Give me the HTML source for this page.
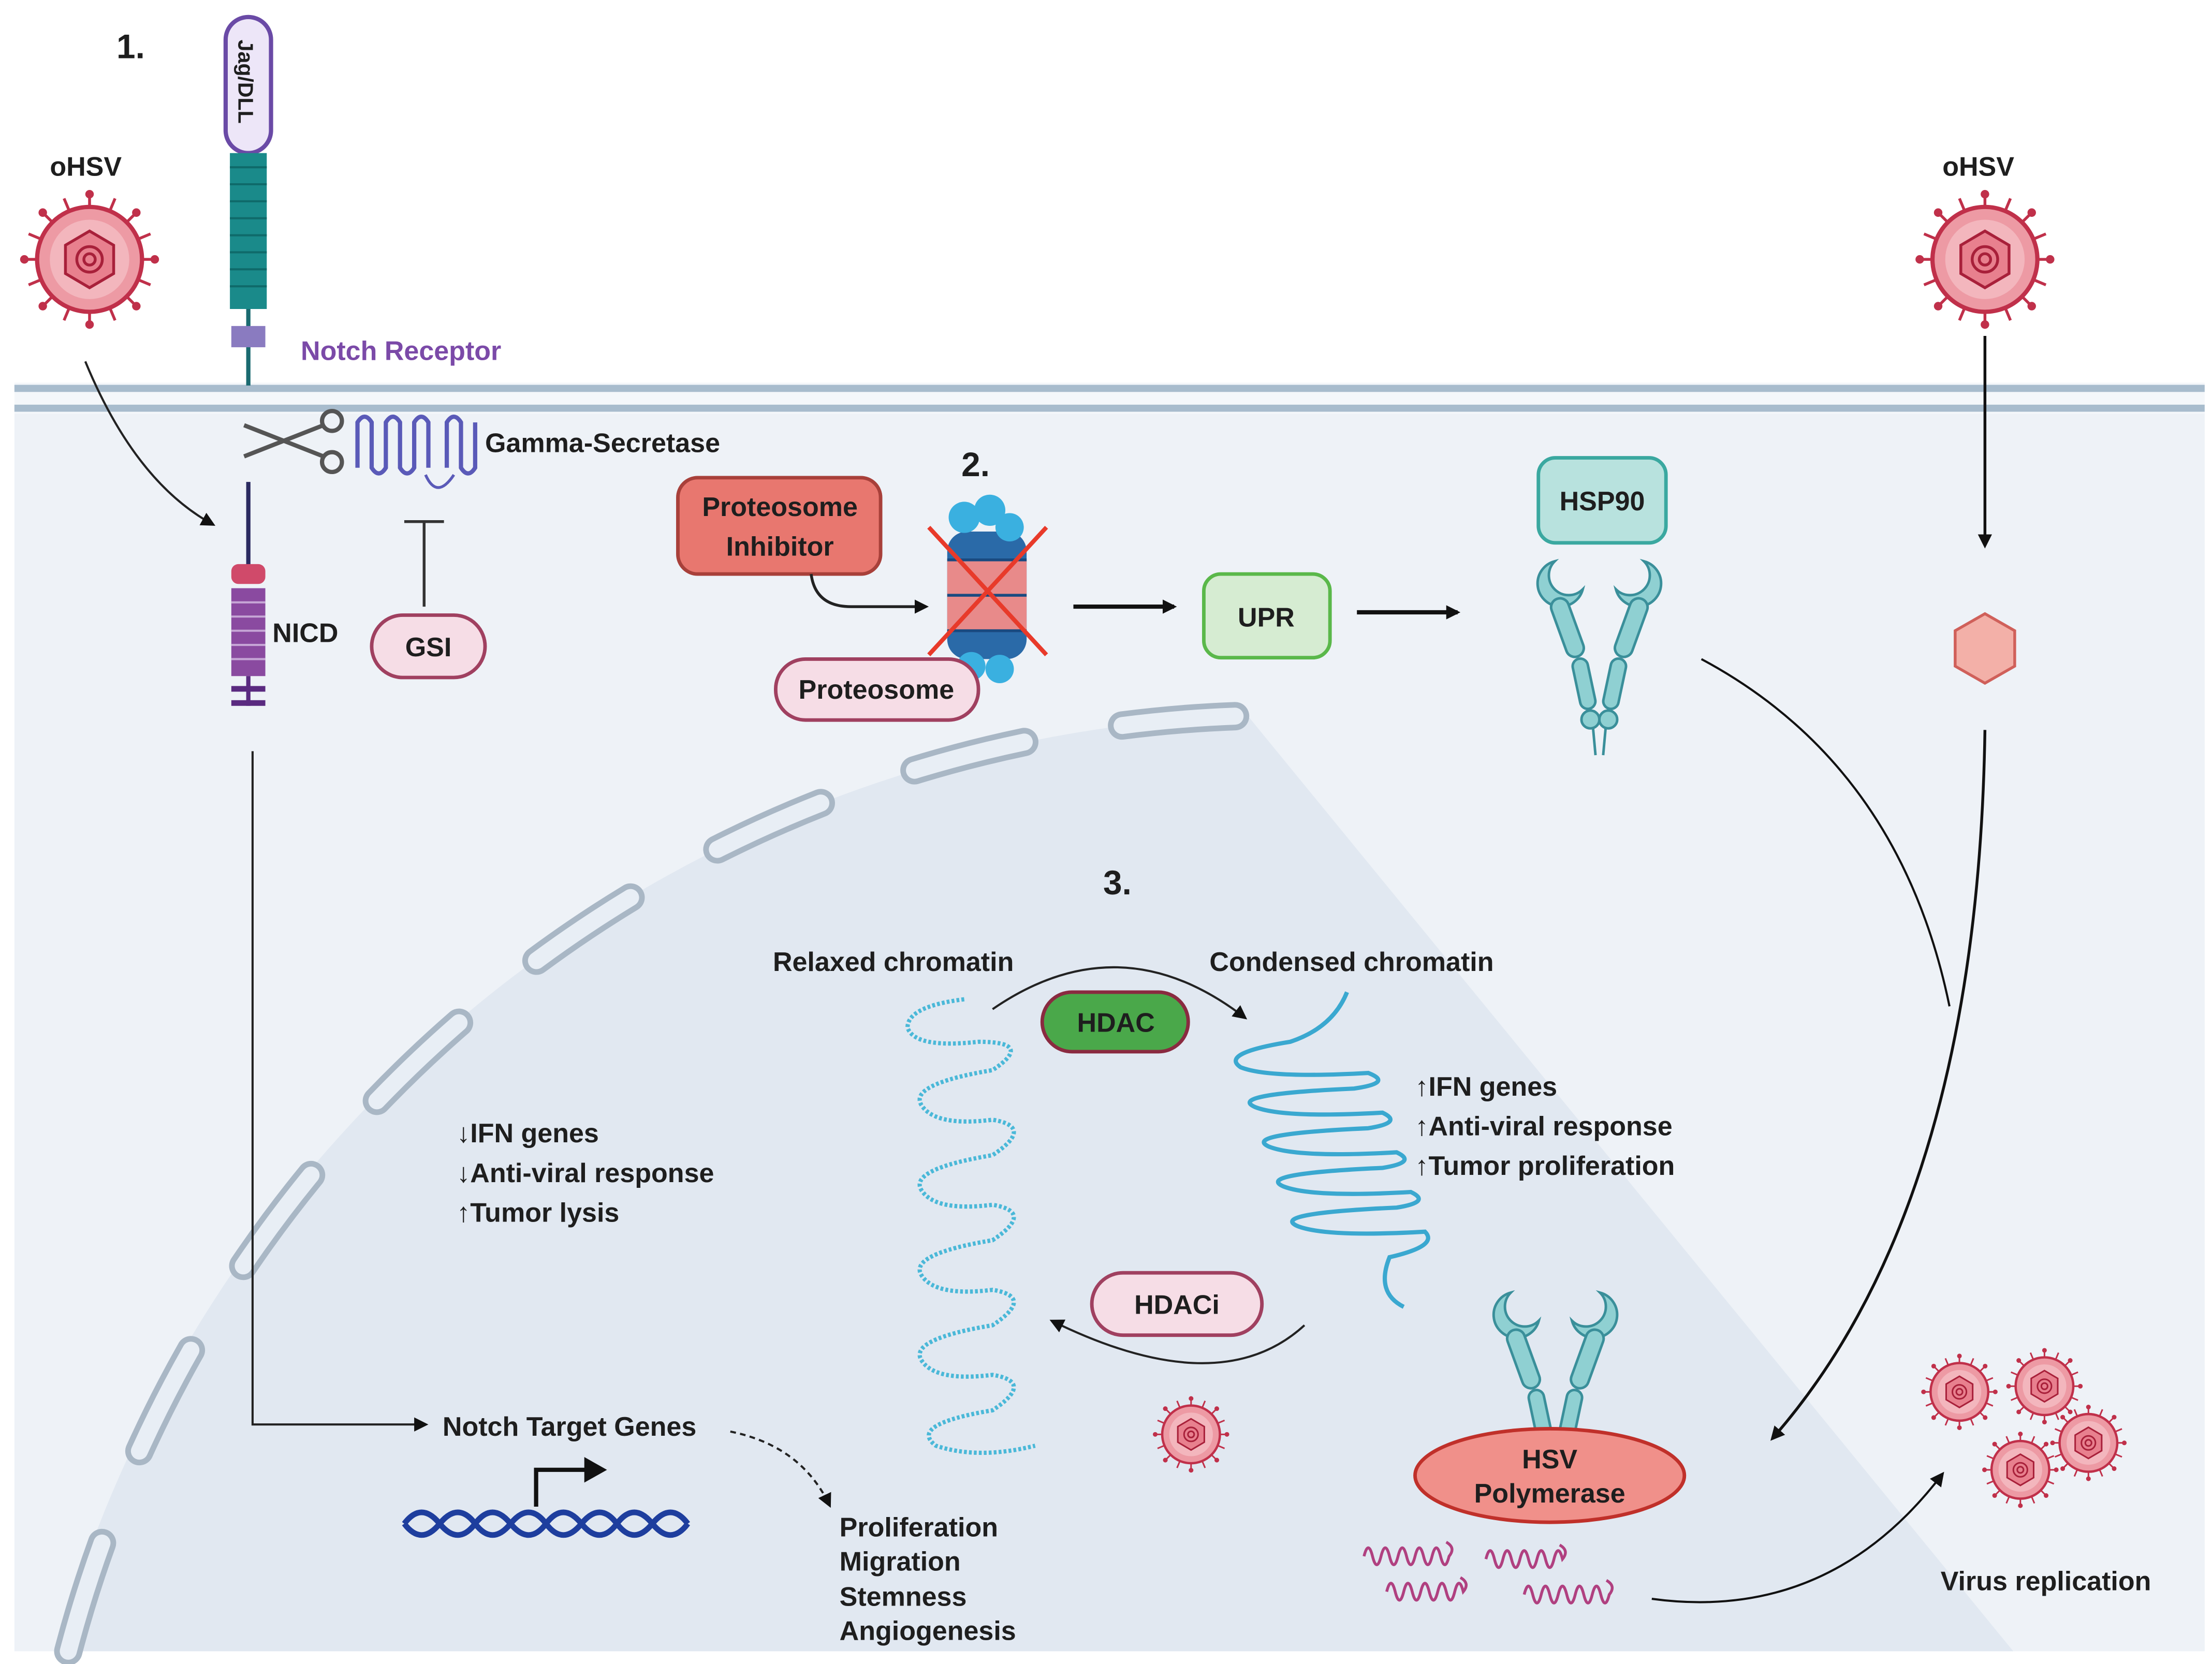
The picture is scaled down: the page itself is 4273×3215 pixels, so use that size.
<!DOCTYPE html>
<html><head><meta charset="utf-8"><style>
html,body{margin:0;padding:0;background:#fff;}
svg{display:block;}
text{font-family:"Liberation Sans",Arial,sans-serif;font-weight:bold;fill:#1e1e1e;}
</style></head><body>
<svg width="4273" height="3215" viewBox="0 0 1560 1174" xmlns="http://www.w3.org/2000/svg">
<defs>
<marker id="ah" markerWidth="10" markerHeight="10" refX="8" refY="5" orient="auto" markerUnits="userSpaceOnUse"><path d="M0,0 L10,5 L0,10 z" fill="#111"/></marker>
<g id="virus">
 <g stroke="#c0304a" stroke-width="2">
  <line x1="0" y1="-46" x2="0" y2="46"/><line x1="-46" y1="0" x2="46" y2="0"/>
  <line x1="-33" y1="-33" x2="33" y2="33"/><line x1="-33" y1="33" x2="33" y2="-33"/>
  <line x1="-18" y1="-43" x2="18" y2="43"/><line x1="-43" y1="-18" x2="43" y2="18"/>
  <line x1="-18" y1="43" x2="18" y2="-43"/><line x1="-43" y1="18" x2="43" y2="-18"/>
 </g>
 <g fill="#c0304a"><circle cx="0" cy="-46" r="3"/><circle cx="0" cy="46" r="3"/><circle cx="-46" cy="0" r="3"/><circle cx="46" cy="0" r="3"/><circle cx="33" cy="33" r="3"/><circle cx="-33" cy="-33" r="3"/><circle cx="33" cy="-33" r="3"/><circle cx="-33" cy="33" r="3"/></g>
 <circle r="37" fill="#ed9aa4" stroke="#c0304a" stroke-width="3"/>
 <circle r="28" fill="#f3b6bd"/>
 <polygon points="0,-20 17,-10 17,10 0,20 -17,10 -17,-10" fill="#e8808e" stroke="#a8203a" stroke-width="2"/>
 <circle r="9" fill="none" stroke="#a8203a" stroke-width="2"/><circle r="4" fill="none" stroke="#a8203a" stroke-width="2"/>
</g>
<g id="ab" fill="#8fd0d2" stroke="#3a8f9a" stroke-width="2">
 <path d="M-35,-40 a18,18 0 1,0 22,22 a12,12 0 1,1 -22,-22z"/>
 <path d="M35,-40 a18,18 0 1,1 -22,22 a12,12 0 1,0 22,-22z"/>
 <rect x="-32" y="-12" width="14" height="48" rx="7" transform="rotate(-20 -25 12)"/>
 <rect x="18" y="-12" width="14" height="48" rx="7" transform="rotate(20 25 12)"/>
 <rect x="-18" y="36" width="12" height="40" rx="6" transform="rotate(-12 -12 56)"/>
 <rect x="6" y="36" width="12" height="40" rx="6" transform="rotate(12 12 56)"/>
 <circle cx="-7" cy="84" r="7"/><circle cx="7" cy="84" r="7"/>
 <line x1="-5" y1="90" x2="-3" y2="112"/><line x1="5" y1="90" x2="3" y2="112"/>
</g>
</defs>

<rect x="10" y="285" width="1545" height="880" fill="#eef2f7"/>
<path d="M40,1165 A900,900 0 0 1 880,505 L1420,1165 Z" fill="#e1e8f1"/>
<path d="M48,1165 A885,885 0 0 1 880,505" fill="none" stroke="#a9b7c5" stroke-width="20" stroke-linecap="round" stroke-dasharray="80 70"/>
<path d="M48,1165 A885,885 0 0 1 880,505" fill="none" stroke="#e8eef5" stroke-width="12" stroke-linecap="round" stroke-dasharray="80 70"/>
<rect x="10" y="270" width="1545" height="22" fill="#f4f7fa"/>
<line x1="10" y1="274" x2="1555" y2="274" stroke="#a8bccd" stroke-width="5"/>
<line x1="10" y1="288" x2="1555" y2="288" stroke="#a8bccd" stroke-width="5"/>

<text x="82" y="41" font-size="24">1.</text>
<text x="35" y="124" font-size="19">oHSV</text>
<use href="#virus" x="63" y="183"/>
<text x="1370" y="124" font-size="19">oHSV</text>
<use href="#virus" x="1400" y="183"/>

<rect x="159" y="12" width="32" height="96" rx="16" fill="#ede6f8" stroke="#6a4aa6" stroke-width="3"/>
<text transform="translate(168,28) rotate(90)" font-size="15" font-weight="normal" fill="#333">Jag/DLL</text>
<rect x="162" y="108" width="26" height="110" fill="#1a8a8a"/>
<g stroke="#0f6a6a" stroke-width="1.5"><line x1="162" y1="118" x2="188" y2="118"/><line x1="162" y1="130" x2="188" y2="130"/><line x1="162" y1="142" x2="188" y2="142"/><line x1="162" y1="154" x2="188" y2="154"/><line x1="162" y1="166" x2="188" y2="166"/><line x1="162" y1="178" x2="188" y2="178"/><line x1="162" y1="190" x2="188" y2="190"/><line x1="162" y1="202" x2="188" y2="202"/></g>
<line x1="175" y1="218" x2="175" y2="272" stroke="#1a6a70" stroke-width="3"/>
<rect x="163" y="230" width="24" height="15" fill="#8a7bc0"/>
<text x="212" y="254" font-size="19" font-weight="normal" style="fill:#7b4aa8">Notch Receptor</text>

<g stroke="#555" stroke-width="3" fill="none"><line x1="172" y1="300" x2="228" y2="322"/><line x1="172" y1="322" x2="228" y2="300"/><circle cx="234" cy="297" r="7"/><circle cx="234" cy="326" r="7"/></g>
<path d="M252,330 V298 q5,-8 10,0 V330 q5,8 10,0 V298 q5,-8 10,0 V330 q5,8 10,0 V298 q5,-8 10,0 V330 M315,330 V298 q5,-8 10,0 V330 q5,8 10,0 V298" fill="none" stroke="#5a5ab8" stroke-width="3"/>
<path d="M300,335 q8,18 20,0" fill="none" stroke="#5a5ab8" stroke-width="2"/>
<text x="342" y="319" font-size="19">Gamma-Secretase</text>

<line x1="175" y1="340" x2="175" y2="400" stroke="#2a2a60" stroke-width="3"/>
<rect x="163" y="398" width="24" height="14" rx="5" fill="#d04a6a"/>
<rect x="163" y="415" width="24" height="62" fill="#8a4aa0"/>
<g stroke="#c6a6d6" stroke-width="1.5"><line x1="163" y1="425" x2="187" y2="425"/><line x1="163" y1="435" x2="187" y2="435"/><line x1="163" y1="445" x2="187" y2="445"/><line x1="163" y1="455" x2="187" y2="455"/><line x1="163" y1="465" x2="187" y2="465"/></g>
<line x1="175" y1="477" x2="175" y2="498" stroke="#5a2a80" stroke-width="3"/>
<rect x="163" y="484" width="24" height="4" fill="#5a2a80"/><rect x="163" y="494" width="24" height="4" fill="#5a2a80"/>
<text x="192" y="453" font-size="19">NICD</text>

<line x1="285" y1="368" x2="313" y2="368" stroke="#333" stroke-width="2"/>
<line x1="299" y1="368" x2="299" y2="428" stroke="#333" stroke-width="2"/>
<rect x="262" y="434" width="80" height="44" rx="22" fill="#f6dde6" stroke="#a04060" stroke-width="2.5"/>
<text x="302" y="463" font-size="19" text-anchor="middle">GSI</text>

<path d="M60,255 Q95,340 150,370" fill="none" stroke="#222" stroke-width="1.5" marker-end="url(#ah)"/>

<path d="M178,530 V1005 H300" fill="none" stroke="#222" stroke-width="1.5" marker-end="url(#ah)"/>
<text x="312" y="1013" font-size="19">Notch Target Genes</text>
<path d="M515,1010 Q565,1020 585,1062" fill="none" stroke="#222" stroke-width="1.5" stroke-dasharray="4 3" marker-end="url(#ah)"/>
<g font-size="19"><text x="592" y="1084">Proliferation</text><text x="592" y="1108">Migration</text><text x="592" y="1133">Stemness</text><text x="592" y="1157">Angiogenesis</text></g>
<path d="M285,1075 q12,-16 25,0 t25,0 t25,0 t25,0 t25,0 t25,0 t25,0 t25,0" fill="none" stroke="#1e3e9e" stroke-width="4"/>
<path d="M285,1075 q12,16 25,0 t25,0 t25,0 t25,0 t25,0 t25,0 t25,0 t25,0" fill="none" stroke="#1e3e9e" stroke-width="4"/>
<path d="M378,1063 V1037 H415" fill="none" stroke="#111" stroke-width="3"/>
<path d="M412,1028 L428,1037 L412,1046z" fill="#111"/>

<g font-size="19"><text x="322" y="806">↓IFN genes</text><text x="322" y="834">↓Anti-viral response</text><text x="322" y="862">↑Tumor lysis</text></g>

<text x="678" y="336" font-size="24">2.</text>
<rect x="478" y="337" width="143" height="68" rx="14" fill="#e8776f" stroke="#a8403a" stroke-width="2.5"/>
<text x="550" y="364" font-size="19" text-anchor="middle">Proteosome</text>
<text x="550" y="392" font-size="19" text-anchor="middle">Inhibitor</text>
<path d="M572,405 Q575,428 600,428 H653" fill="none" stroke="#222" stroke-width="2" marker-end="url(#ah)"/>
<g>
<rect x="668" y="375" width="56" height="90" rx="14" fill="#2a6aa8"/>
<rect x="668" y="395" width="56" height="50" fill="#e88a8a"/>
<g fill="#3ab0e0"><circle cx="680" cy="365" r="11"/><circle cx="698" cy="360" r="11"/><circle cx="712" cy="372" r="10"/><circle cx="685" cy="470" r="10"/><circle cx="705" cy="472" r="10"/></g>
<g stroke="#1a4a80" stroke-width="2"><line x1="668" y1="395" x2="724" y2="395"/><line x1="668" y1="420" x2="724" y2="420"/><line x1="668" y1="445" x2="724" y2="445"/></g>
<line x1="655" y1="372" x2="738" y2="462" stroke="#e83a2a" stroke-width="3"/>
<line x1="738" y1="372" x2="655" y2="462" stroke="#e83a2a" stroke-width="3"/>
</g>
<rect x="547" y="465" width="143" height="43" rx="21" fill="#f6dde6" stroke="#a04060" stroke-width="2.5"/>
<text x="618" y="493" font-size="19" text-anchor="middle">Proteosome</text>

<line x1="757" y1="428" x2="828" y2="428" stroke="#111" stroke-width="3" marker-end="url(#ah)"/>
<rect x="849" y="405" width="89" height="59" rx="12" fill="#d6ecd2" stroke="#5ab84a" stroke-width="2.5"/>
<text x="893" y="442" font-size="19" text-anchor="middle">UPR</text>
<line x1="957" y1="432" x2="1028" y2="432" stroke="#111" stroke-width="3" marker-end="url(#ah)"/>
<rect x="1085" y="323" width="90" height="60" rx="12" fill="#b8e2de" stroke="#3aa8a0" stroke-width="2.5"/>
<text x="1130" y="360" font-size="19" text-anchor="middle">HSP90</text>
<use href="#ab" transform="translate(1128,432) scale(0.9)"/>

<line x1="1400" y1="237" x2="1400" y2="385" stroke="#111" stroke-width="2" marker-end="url(#ah)"/>
<polygon points="1400,433 1421,445 1421,470 1400,482 1379,470 1379,445" fill="#f3b0a8" stroke="#d0605a" stroke-width="2"/>
<path d="M1400,515 Q1395,850 1250,1015" fill="none" stroke="#111" stroke-width="2" marker-end="url(#ah)"/>
<path d="M1200,465 Q1340,540 1375,710" fill="none" stroke="#111" stroke-width="1.5"/>

<text x="778" y="631" font-size="24">3.</text>
<text x="545" y="685" font-size="19">Relaxed chromatin</text>
<text x="853" y="685" font-size="19">Condensed chromatin</text>
<path d="M700,712 Q790,650 878,718" fill="none" stroke="#222" stroke-width="1.5" marker-end="url(#ah)"/>
<rect x="735" y="700" width="103" height="42" rx="21" fill="#4aa84a" stroke="#8a2a40" stroke-width="2.5"/>
<text x="787" y="728" font-size="19" text-anchor="middle">HDAC</text>
<path d="M680,705 q-40,5 -40,20 q5,15 50,10 q40,0 10,20 q-60,10 -50,25 q10,15 50,10 q30,5 0,25 q-60,10 -50,25 q10,15 50,10 q30,5 0,25 q-60,10 -50,25 q10,15 50,10 q30,5 0,25 q-60,10 -50,25 q10,15 50,10 q30,5 0,25 q-60,10 -40,25 q30,10 70,0" fill="none" stroke="#4ab8d8" stroke-width="3" stroke-dasharray="2 1.5"/>
<path d="M950,700 q-10,25 -40,35 q-50,8 -35,18 q20,8 90,4 q18,7 -10,11 q-90,4 -70,13 q20,8 90,4 q15,7 -10,11 q-90,4 -70,13 q20,8 90,4 q15,7 -10,11 q-90,4 -70,13 q20,8 90,4 q15,7 -10,11 q-90,4 -70,13 q20,8 90,4 q10,10 -25,18 q-10,25 10,35" fill="none" stroke="#3aa8d0" stroke-width="3"/>
<g font-size="19"><text x="998" y="773">↑IFN genes</text><text x="998" y="801">↑Anti-viral response</text><text x="998" y="829">↑Tumor proliferation</text></g>
<rect x="770" y="898" width="120" height="44" rx="22" fill="#f6dde6" stroke="#a04060" stroke-width="2.5"/>
<text x="830" y="927" font-size="19" text-anchor="middle">HDACi</text>
<path d="M920,935 Q860,990 742,932" fill="none" stroke="#222" stroke-width="1.5" marker-end="url(#ah)"/>
<use href="#virus" transform="translate(840,1012) scale(0.55)"/>

<use href="#ab" transform="translate(1097,948) scale(0.9)"/>
<ellipse cx="1093" cy="1041" rx="95" ry="33" fill="#f0908a" stroke="#c0302a" stroke-width="2.5"/>
<text x="1093" y="1036" font-size="19" text-anchor="middle">HSV</text>
<text x="1093" y="1060" font-size="19" text-anchor="middle">Polymerase</text>
<g fill="none" stroke="#b04080" stroke-width="2">
<path d="M962,1098 q3,-12 6,0 t6,0 t6,0 t6,0 t6,0 t6,0 t6,0 t6,0 t6,0 t6,0 q5,-6 -2,-10"/>
<path d="M1048,1100 q3,-12 6,0 t6,0 t6,0 t6,0 t6,0 t6,0 t6,0 t6,0 t6,0 q5,-6 -2,-10"/>
<path d="M978,1123 q3,-12 6,0 t6,0 t6,0 t6,0 t6,0 t6,0 t6,0 t6,0 t6,0 q5,-6 -2,-10"/>
<path d="M1075,1125 q3,-12 6,0 t6,0 t6,0 t6,0 t6,0 t6,0 t6,0 t6,0 t6,0 t6,0 q5,-6 -2,-10"/>
</g>
<path d="M1165,1128 Q1290,1145 1370,1040" fill="none" stroke="#111" stroke-width="1.5" marker-end="url(#ah)"/>
<use href="#virus" transform="translate(1382,982) scale(0.55)"/>
<use href="#virus" transform="translate(1442,978) scale(0.55)"/>
<use href="#virus" transform="translate(1473,1018) scale(0.55)"/>
<use href="#virus" transform="translate(1425,1037) scale(0.55)"/>
<text x="1443" y="1122" font-size="19" text-anchor="middle">Virus replication</text>
</svg>
</body></html>
